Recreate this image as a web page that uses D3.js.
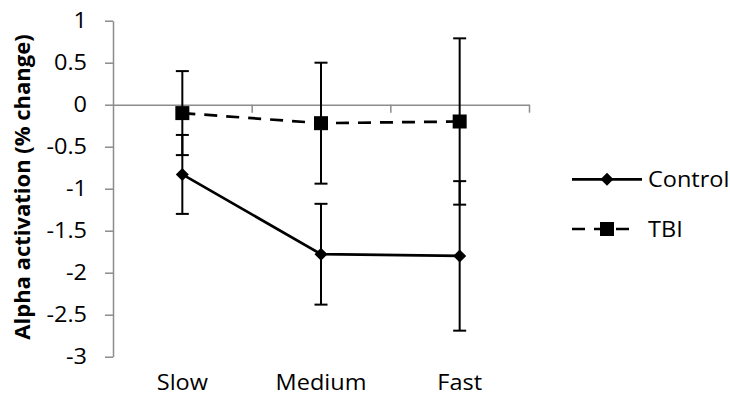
<!DOCTYPE html>
<html>
<head>
<meta charset="utf-8">
<script src="https://cdn.jsdelivr.net/npm/d3@7"></script>
<style>
  html, body { margin: 0; padding: 0; background: #fff; }
  svg text { font-family: "Open Sans", "Noto Sans", sans-serif; fill: #000; }
</style>
</head>
<body>
<svg id="chart" width="730" height="396"></svg>
<script>
// data
var categories = ['Slow', 'Medium', 'Fast'];
var controlValues = [-0.83, -1.78, -1.80];
var controlErrors = [0.47, 0.60, 0.89];
var tbiValues = [-0.10, -0.22, -0.20];
var tbiErrors = [0.50, 0.72, 0.99];
var yTicks = [1, 0.5, 0, -0.5, -1, -1.5, -2, -2.5, -3];
var seriesNames = ['Control', 'TBI'];

var svg = d3.select('#chart');

// plot area
var plotLeft = 113, plotRight = 529, plotTop = 20.7, plotBottom = 356.7;
var fontSize = 21;
var stretch = 1.12; // the reference glyphs are a bit wider than Open Sans

var y = d3.scaleLinear().domain([-3, 1]).range([plotBottom, plotTop]);
var x = d3.scaleBand().domain(categories).range([plotLeft, plotRight]);
var xEdge = d3.scaleLinear().domain([0, categories.length]).range([plotLeft, plotRight]);

var axisColor = '#8c8c8c';

// y axis
var yAxis = svg.append('g')
  .attr('transform', 'translate(' + plotLeft + ',0)')
  .call(d3.axisLeft(y)
    .tickValues(yTicks)
    .tickSize(8)
    .tickSizeOuter(0)
    .tickPadding(15.2)
    .tickFormat(function(d){ return String(d); }));
yAxis.select('.domain').attr('stroke', axisColor).attr('stroke-width', 1.5);
yAxis.selectAll('.tick line').attr('stroke', axisColor).attr('stroke-width', 1.5);
yAxis.selectAll('.tick text')
  .attr('font-size', fontSize)
  .attr('transform', 'scale(' + stretch + ',1)')
  .style('font-family', '"Open Sans", sans-serif')
  .attr('fill', '#000');

// x axis line sits on zero
var xAxis = svg.append('g')
  .attr('transform', 'translate(0,' + y(0) + ')')
  .call(d3.axisBottom(xEdge)
    .tickValues(d3.range(1, categories.length + 1))
    .tickSize(8)
    .tickSizeOuter(0)
    .tickFormat(''));
xAxis.select('.domain').attr('stroke', axisColor).attr('stroke-width', 1.5);
xAxis.selectAll('.tick line').attr('stroke', axisColor).attr('stroke-width', 1.5);

// category labels at the bottom (low position)
svg.append('g').selectAll('text')
  .data(categories)
  .enter().append('text')
  .attr('transform', function(d){
    return 'translate(' + (x(d) + x.bandwidth() / 2) + ',389.5) scale(' + stretch + ',1)';
  })
  .attr('text-anchor', 'middle')
  .attr('font-size', fontSize)
  .text(function(d){ return d; });

// y title
svg.append('text')
  .attr('transform', 'translate(30,187) rotate(-90)')
  .attr('text-anchor', 'middle')
  .attr('font-size', 22)
  .attr('font-weight', 'bold')
  .text('Alpha activation (% change)');

var cx = function(i){ return x(categories[i]) + x.bandwidth() / 2; };

var series = [
  { name: seriesNames[0], values: controlValues, errors: controlErrors, dash: null, marker: 'diamond' },
  { name: seriesNames[1], values: tbiValues, errors: tbiErrors, dash: '13,9', marker: 'square' }
];

var line = d3.line()
  .x(function(d, i){ return cx(i); })
  .y(function(d){ return y(d); });

function drawMarker(g, type, px, py){
  if(type === 'diamond'){
    g.append('path')
      .attr('d', 'M0,-6.5L6.5,0L0,6.5L-6.5,0Z')
      .attr('transform', 'translate(' + px + ',' + py + ')')
      .attr('fill', '#000');
  }else{
    g.append('rect')
      .attr('x', px - 7).attr('y', py - 7)
      .attr('width', 14).attr('height', 14)
      .attr('fill', '#000');
  }
}

series.forEach(function(s){
  var g = svg.append('g');

  // error bars
  s.values.forEach(function(v, i){
    var px = cx(i);
    var hi = y(v + s.errors[i]), lo = y(v - s.errors[i]);
    g.append('line')
      .attr('x1', px).attr('x2', px)
      .attr('y1', hi).attr('y2', lo)
      .attr('stroke', '#000').attr('stroke-width', 2);
    [hi, lo].forEach(function(cy){
      g.append('line')
        .attr('x1', px - 6.5).attr('x2', px + 6.5)
        .attr('y1', cy).attr('y2', cy)
        .attr('stroke', '#000').attr('stroke-width', 2);
    });
  });

  g.append('path')
    .datum(s.values)
    .attr('d', line)
    .attr('fill', 'none')
    .attr('stroke', '#000')
    .attr('stroke-width', 2.7)
    .attr('stroke-dasharray', s.dash);

  s.values.forEach(function(v, i){
    drawMarker(g, s.marker, cx(i), y(v));
  });
});

// legend
var legendY = [179.3, 229];
series.forEach(function(s, i){
  var g = svg.append('g');
  var ly = legendY[i];
  g.append('line')
    .attr('x1', 572).attr('x2', s.dash ? 638 : 642)
    .attr('y1', ly).attr('y2', ly)
    .attr('stroke', '#000')
    .attr('stroke-width', 2.7)
    .attr('stroke-dasharray', s.dash);
  drawMarker(g, s.marker, 607, ly);
  g.append('text')
    .attr('transform', 'translate(648,' + (ly + 7.5) + ') scale(' + stretch + ',1)')
    .attr('font-size', fontSize)
    .text(s.name);
});
</script>
</body>
</html>
